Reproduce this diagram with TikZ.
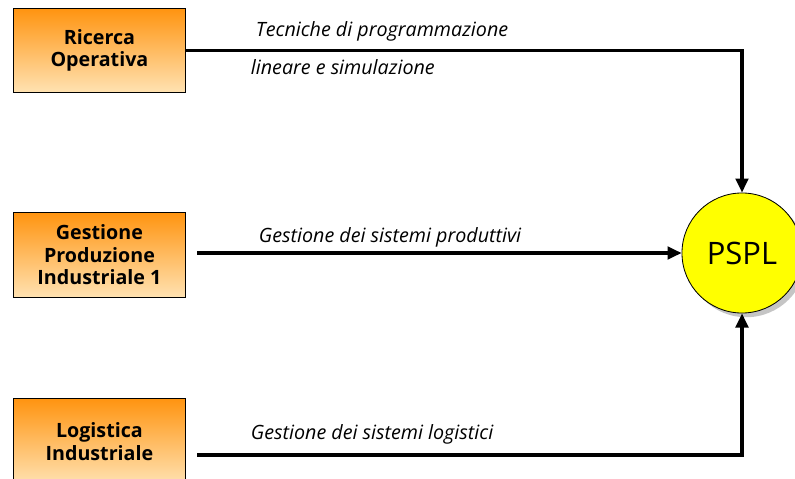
\documentclass[tikz,border=0pt]{standalone}
\usepackage{fontspec}
\setmainfont{Open Sans}
\usetikzlibrary{arrows.meta, positioning, shadows}
\definecolor{boxTop}{RGB}{255, 148, 16}
\definecolor{boxBottom}{RGB}{255, 226, 178}
\definecolor{pspYellow}{RGB}{255, 255, 0}
\tikzset{
  course/.style={draw=black, line width=0.6pt, top color=boxTop, bottom color=boxBottom,
    minimum width=4.3cm, minimum height=2.1cm, anchor=north west, align=center,
    font=\fontsize{14}{16}\selectfont\bfseries},
  flow/.style={line width=2.2pt, -{Triangle[length=10pt, width=9pt]}},
  topic/.style={anchor=west, font=\fontsize{14}{16}\selectfont\itshape}
}
\begin{document}
\begin{tikzpicture}[x=0.025cm, y=-0.025cm]
  \useasboundingbox (0,0) rectangle (795,479);
  % corsi di partenza
  \node[course] (ro) at (13,8) {Ricerca\\Operativa};
  \node[course, minimum height=2.125cm] (gpi) at (13,212) {Gestione\\Produzione\\Industriale 1};
  \node[course, minimum height=2.15cm] (li) at (13,398) {Logistica\\Industriale};
  % obiettivo
  \node[circle, draw=black, line width=0.6pt, fill=pspYellow, minimum size=3cm,
    drop shadow={shadow xshift=3pt, shadow yshift=-3pt, fill=black!45},
    font=\fontsize{22}{24}\selectfont] (pspl) at (742,253) {PSPL};
  \coordinate (gpi out) at (197,253);
  \coordinate (li out) at (197,455);
  \draw[flow] (ro.east) -| (pspl.north);
  \draw[flow] (gpi out) -- (pspl.west);
  \draw[flow] (li out) -| (pspl.south);
  % etichette
  \node[topic] (t1) at (251,31) {Tecniche di programmazione};
  \node[topic] (t2) at (246,67) {lineare e simulazione};
  \node[topic] (t3) at (254,237) {Gestione dei sistemi produttivi};
  \node[topic] (t4) at (246,434) {Gestione dei sistemi logistici};
\end{tikzpicture}
\end{document}
